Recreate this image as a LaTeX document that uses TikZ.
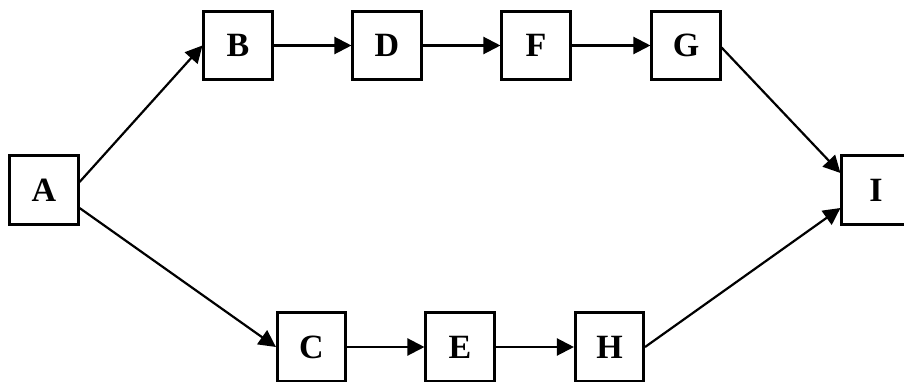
\documentclass[tikz,border=0pt]{standalone}
\usepackage{fontspec}
\setmainfont{Liberation Serif}
\usetikzlibrary{arrows.meta}
\begin{document}
\begin{tikzpicture}[x=1pt,y=-1pt,
  box/.style={draw=black,line width=2.6pt,minimum width=68.5pt,minimum height=68.5pt,inner sep=0pt,
    font=\fontsize{34}{34}\selectfont\bfseries},
  conn/.style={line width=2.2pt,-{Triangle[length=17pt,width=17pt]}}]
\useasboundingbox (0,0) rectangle (904,382);
\node[box] (A) at (44,190) {A};
\node[box] (B) at (238,45.5) {B};
\node[box] (D) at (387,45.5) {D};
\node[box] (F) at (536,45.5) {F};
\node[box] (G) at (686,45.5) {G};
\node[box] (I) at (876,190) {I};
\node[box] (C) at (311.5,347) {C};
\node[box] (E) at (460,347) {E};
\node[box] (H) at (609.5,347) {H};
\draw[conn] ([yshift=8pt]A.east) -- (B.west);
\draw[conn] ([yshift=-18pt]A.east) -- (C.west);
\draw[conn] (B) -- (D);
\draw[conn] (D) -- (F);
\draw[conn] (F) -- (G);
\draw[conn] (C) -- (E);
\draw[conn] (E) -- (H);
\draw[conn] ([yshift=-2pt]G.east) -- ([yshift=17pt]I.west);
\draw[conn] (H.east) -- ([yshift=-18pt]I.west);
\end{tikzpicture}
\end{document}
